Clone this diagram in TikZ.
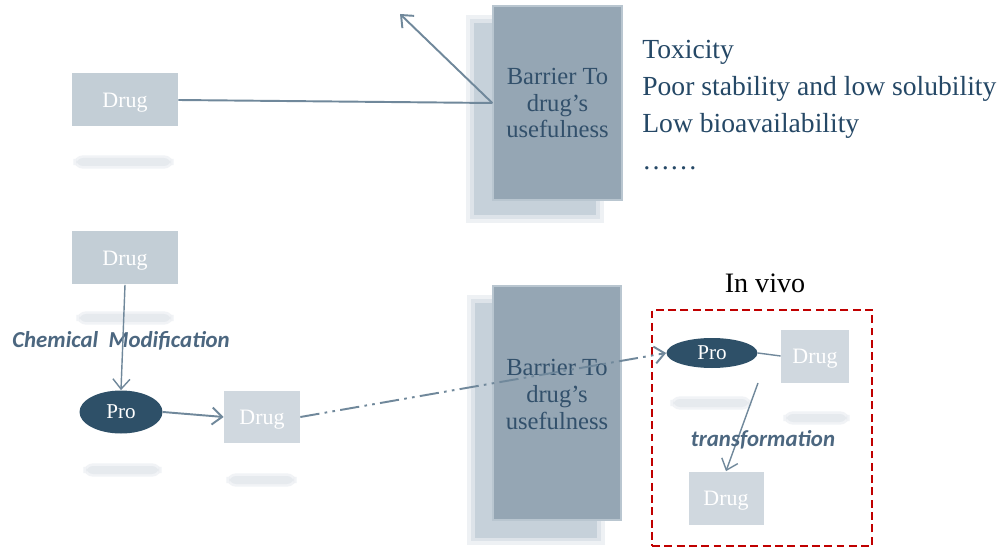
\documentclass[tikz,border=0pt]{standalone}
\usepackage{fontspec}
\setmainfont{Liberation Serif}
\setsansfont{Carlito}
\usetikzlibrary{arrows.meta,positioning,shapes.geometric}
\definecolor{Mist}{RGB}{195,206,214}
\definecolor{MistLight}{RGB}{208,216,223}
\definecolor{Barrier}{RGB}{149,166,180}
\definecolor{BarEdge}{RGB}{185,198,208}
\definecolor{BarShade}{RGB}{198,209,218}
\definecolor{BarInk}{RGB}{50,80,107}
\definecolor{Ink}{RGB}{37,72,102}
\definecolor{ProNavy}{RGB}{46,80,104}
\definecolor{Wire}{RGB}{112,136,155}
\definecolor{Tag}{RGB}{76,103,128}
\definecolor{Haze}{RGB}{224,229,234}
\definecolor{VivoRed}{RGB}{192,0,0}
\tikzset{
  >={Straight Barb[length=2mm,width=3.4mm]},
  drug/.style={fill=Mist,text=white,font=\fontsize{12.5}{14}\selectfont,text height=2ex,text depth=.2ex,minimum width=2.12cm,minimum height=1.06cm,inner sep=0pt},
  druglight/.style={drug,fill=MistLight},
  pro/.style={ellipse,fill=ProNavy,text=white,font=\fontsize{12}{14}\selectfont,inner sep=0pt},
  barrier/.style={draw=BarEdge,line width=.8pt,fill=Barrier,text=BarInk,align=center,font=\fontsize{14}{15.3}\selectfont,inner sep=0pt},
  backshade/.style={fill=BarShade,inner sep=0pt,
    preaction={draw=BarShade!30!white,line width=9pt},
    preaction={draw=BarShade!60!white,line width=4pt}},
  reflect/.style={fill=Haze!80!white,rounded corners=4pt,minimum height=.16cm,inner sep=0pt,
    preaction={draw=Haze!45!white,line width=3pt,rounded corners=4pt}},
  wire/.style={->,line width=1.1pt,draw=Wire},
  thinwire/.style={->,line width=.8pt,draw=Wire},
  dashdot/.style={->,line width=1.1pt,draw=Wire,dash pattern=on 11pt off 3pt on 1.5pt off 3pt on 1.5pt off 3pt},
  tag/.style={font=\sffamily\bfseries\itshape\fontsize{13}{15}\selectfont,text=Tag,inner sep=0pt},
  listing/.style={font=\fontsize{15.7}{21}\selectfont,text=Ink,align=left,inner sep=0pt},
  vivo/.style={draw=VivoRed,line width=1.2pt,dash pattern=on 4.5pt off 2.5pt,minimum width=4.40cm,minimum height=4.72cm,inner sep=0pt}
}
\begin{document}
\begin{tikzpicture}[x=1cm,y=1cm]
  \fill[white] (0,0) rectangle (20.02,10.96);
  \useasboundingbox (0,0) rectangle (20.02,10.96);
  % top: the plain drug
  \node[backshade,minimum width=2.45cm,minimum height=3.85cm] (shade1) at (10.70,8.58) {};
  \node[barrier,minimum width=2.58cm,minimum height=3.88cm] (bar1) at (11.15,8.90) {Barrier To\\drug’s\\usefulness};
  \node[drug] (drugA) at (2.50,8.96) {Drug};
  \node[reflect,minimum width=1.9cm] (reflA) at (2.47,7.72) {};
  \coordinate (tip) at (8.00,10.68);
  \draw[wire,-] (drugA.east) -- (bar1.west);
  \draw[wire] (bar1.west) -- (tip);
  \node[listing,anchor=north west] (issues) at (12.84,10.16) {Toxicity\\Poor stability and low solubility\\Low bioavailability\\……};
  % bottom: the prodrug route
  \node[drug] (drugB) at (2.50,5.80) {Drug};
  \node[reflect,minimum width=1.84cm] (reflB) at (2.50,4.60) {};
  \node[pro,minimum width=1.66cm,minimum height=.86cm] (proA) at (2.42,2.72) {Pro};
  \node[reflect,minimum width=1.46cm] (reflC) at (2.45,1.56) {};
  \node[druglight,minimum width=1.52cm,minimum height=1.04cm] (drugC) at (5.24,2.62) {Drug};
  \node[reflect,minimum width=1.3cm] (reflD) at (5.23,1.36) {};
  \node[tag] (chem) at (2.42,4.14) {Chemical\ \ Modification};
  \draw[thinwire] (drugB.south) -- (proA.north);
  \draw[wire] (proA.east) -- (drugC.west);
  \node[backshade,minimum width=2.45cm,minimum height=4.7cm] (shade2) at (10.72,2.56) {};
  \node[barrier,minimum width=2.56cm,minimum height=4.68cm,text depth=.36cm] (bar2) at (11.14,2.90) {Barrier To\\drug’s\\usefulness};
  % in vivo
  \node[vivo] (body) at (15.24,2.40) {};
  \node[font=\fontsize{16}{18}\selectfont,inner sep=0pt] (vivolbl) at (15.30,5.30) {In vivo};
  \node[pro,minimum width=1.82cm,minimum height=.60cm] (proB) at (14.24,3.90) {Pro};
  \node[reflect,minimum width=1.52cm] (reflE) at (14.22,2.90) {};
  \node[druglight,minimum width=1.36cm] (drugD) at (16.30,3.84) {Drug};
  \node[reflect,minimum width=1.22cm] (reflF) at (16.33,2.60) {};
  \node[druglight,minimum width=1.50cm] (drugE) at (14.52,1.00) {Drug};
  \draw[dashdot] (drugC.east) -- (proB.west);
  \draw[wire,-,line width=.8pt] (proB.east) -- (drugD.west);
  \coordinate (turn) at (15.16,3.30);
  \draw[thinwire] (turn) -- (drugE.north);
  \node[tag] (trans) at (15.26,2.16) {transformation};
\end{tikzpicture}
\end{document}
